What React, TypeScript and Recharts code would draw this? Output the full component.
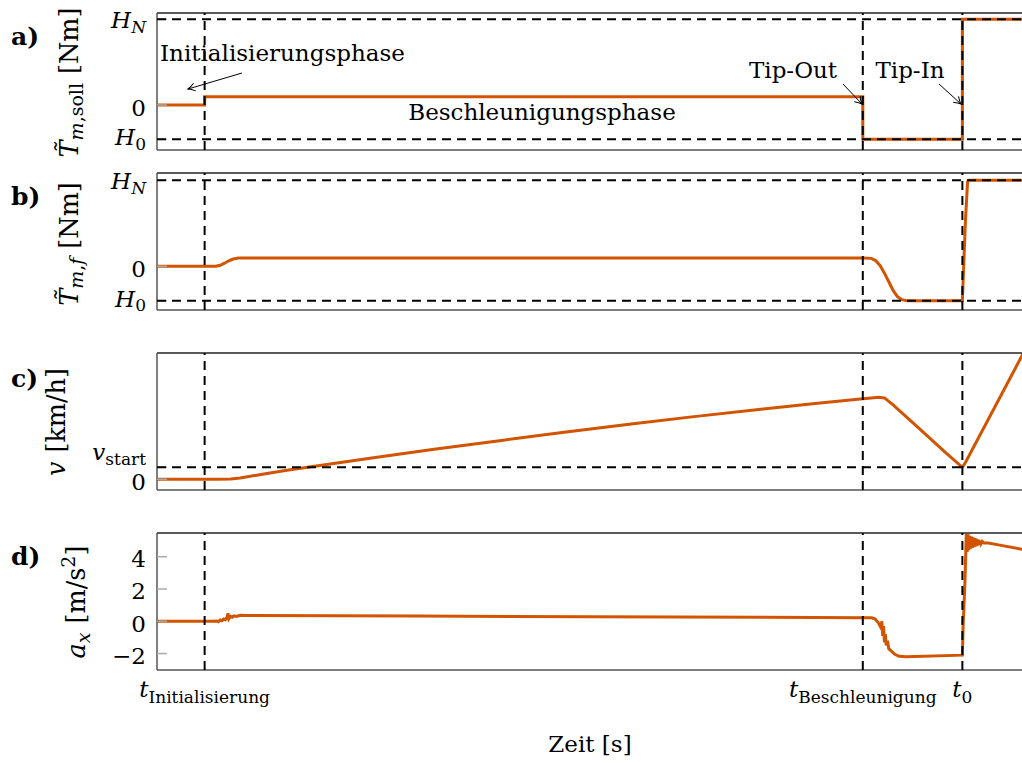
import React from 'react';
import { LineChart, Line, XAxis, YAxis, ReferenceLine } from 'recharts';

const FONT = '"DejaVu Serif", "Liberation Serif", serif';
const ORANGE = '#D25400';
const CHART_W = 1030;
const Y_AXIS_W = 157;

// event instants on the (dimensionless) time axis 0..100
const tInit = 5.5;
const tBeschl = 81.5;
const t0 = 93;
const timeTicks = [tInit, tBeschl, t0];
const timeTickSubs = ['Initialisierung', 'Beschleunigung', '0'];

// torque levels
const hN = 2.5;
const h0 = -1;
const vStart = 5;

// a) requested torque
const sollTime = [0, 5.5, 5.5, 81.5, 81.5, 93, 93, 100];
const sollTorque = [0, 0, 0.24, 0.24, -1, -1, 2.5, 2.5];

// b) filtered torque
const filtTime = [0, 6.8, 7.3, 7.8, 8.3, 8.8, 9.4, 81.5, 82.5, 83.0, 83.5, 84.0, 84.5, 85.0, 85.5, 86.0, 86.6, 93.0, 93.15, 93.35, 93.6, 93.7, 100];
const filtTorque = [0, 0, 0.03, 0.09, 0.16, 0.21, 0.24, 0.24, 0.23, 0.16, 0.02, -0.2, -0.45, -0.7, -0.88, -0.97, -1, -1, 0, 1.3, 2.45, 2.5, 2.5];

// c) vehicle speed
const speedTime = [0, 7, 8.5, 9.6, 12, 15, 20, 25, 32, 40, 47, 55, 62, 70, 76, 81.5, 82.5, 83.3, 84.0, 85, 88, 91, 93, 93.4, 100];
const speed = [0, 0, 0.15, 0.5, 2.0, 3.8, 6.4, 9.0, 12.5, 16.3, 19.6, 23.1, 26.1, 29.3, 31.6, 33.5, 33.9, 34.2, 33.9, 31.0, 21.2, 11.3, 5.0, 7.3, 52.3];

// d) longitudinal acceleration
const accelTime = [
  0, 6.5, 6.9, 7.1, 7.3, 7.5, 7.7, 7.9, 8.1, 8.2, 8.3, 8.5, 8.7, 8.9, 9.2, 9.6, 10.5, 30, 50, 70,
  81.5, 82.5, 82.9, 83.3, 83.6, 83.7, 83.8, 83.9, 84.0, 84.1, 84.2, 84.35, 84.5, 84.8, 85.2, 85.7, 86.5,
  93.0, 93.1, 93.15, 93.3, 93.45, 93.55, 93.65, 93.75, 93.85, 93.95, 94.05, 94.15, 94.25, 94.35, 94.45,
  94.55, 94.65, 94.75, 94.85, 94.95, 95.05, 95.15, 95.3, 95.5, 96, 97, 100,
];
const accel = [
  0, 0, 0.02, -0.03, 0.08, 0.03, 0.14, 0.1, 0.25, 0.5, 0.15, 0.3, 0.25, 0.34, 0.3, 0.37, 0.36, 0.32, 0.28, 0.25,
  0.22, 0.22, 0.15, -0.1, -0.4, 0.0, -0.9, -0.3, -1.3, -0.8, -1.5, -1.2, -1.7, -1.85, -2.05, -2.17, -2.2,
  -2.1, 0.0, 0.5, 2.5, 5.4, 4.3, 5.4, 4.4, 5.3, 4.5, 5.25, 4.55, 5.2, 4.6, 5.15,
  4.65, 5.1, 4.7, 5.05, 4.75, 5.0, 4.8, 4.95, 4.85, 4.85, 4.75, 4.45,
];

// y ticks: [main, subscript]
type TickText = [string, string];
const torqueTicks = [h0, 0, hN];
const torqueTickText: TickText[] = [['H', '0'], ['0', ''], ['H', 'N']];
const speedTicks = [0, vStart];
const speedTickText: TickText[] = [['0', ''], ['v', 'start']];
const accelTicks = [-2, 0, 2, 4];
const accelTickText: TickText[] = [['−2', ''], ['0', ''], ['2', ''], ['4', '']];

const zip = (ts: number[], vs: number[]) => ts.map((t, i) => ({ t, v: vs[i] }));

// baseline offsets of the tick labels relative to the tick position
const tickDy: Record<string, number> = { H_N: 9, H_0: 6, v_start: -7 };
const isLetter = (s: string) => /^[A-Za-z]$/.test(s);

function YTick(props: any) {
  const { x, y, payload, ticks, text } = props;
  const i = ticks.indexOf(payload.value);
  if (i < 0) return null;
  const [main, sub] = text[i] as TickText;
  const dy = sub ? tickDy[`${main}_${sub}`] ?? 10.5 : 10.5;
  return (
    <text x={x} y={y + dy} textAnchor="end" fontFamily={FONT} fontSize={23} fill="#000">
      <tspan fontStyle={isLetter(main) ? 'italic' : 'normal'}>{main}</tspan>
      {sub && (
        <tspan fontSize={17} dy={4.5} fontStyle={isLetter(sub) ? 'italic' : 'normal'}>
          {sub}
        </tspan>
      )}
    </text>
  );
}

function TimeTick(props: any) {
  const { x, y, payload } = props;
  const i = timeTicks.indexOf(payload.value);
  return (
    <text x={x} y={y} textAnchor="middle" fontFamily={FONT} fontSize={23} fill="#000">
      <tspan fontStyle="italic">t</tspan>
      <tspan fontSize={17} dy={6}>{timeTickSubs[i]}</tspan>
    </text>
  );
}

type PanelProps = {
  top: number;
  xAxisHeight: number;
  data: { t: number; v: number }[];
  domain: [number, number];
  ticks: number[];
  text: TickText[];
  hLines: number[];
  rightTicks: number[];
  timeLabels?: boolean;
};

function Panel({ top, xAxisHeight, data, domain, ticks, text, hLines, rightTicks, timeLabels }: PanelProps) {
  const height = 10 + 137 + xAxisHeight;
  return (
    <div style={{ position: 'absolute', left: 0, top }}>
      <LineChart width={CHART_W} height={height} data={data} margin={{ top: 10, right: 7, bottom: 0, left: 0 }}>
        <XAxis
          dataKey="t"
          type="number"
          domain={[0, 100]}
          ticks={timeTicks}
          interval={0}
          allowDataOverflow
          height={xAxisHeight}
          axisLine={{ stroke: '#555', strokeWidth: 1.5 }}
          tickLine={timeLabels ? false : { stroke: '#555' }}
          tickSize={timeLabels ? 0 : 4}
          tickMargin={timeLabels ? 27 : 0}
          tick={timeLabels ? <TimeTick /> : false}
        />
        <YAxis
          yAxisId="left"
          type="number"
          domain={domain}
          ticks={ticks}
          interval={0}
          allowDataOverflow
          width={Y_AXIS_W}
          tickSize={-10}
          tickMargin={21}
          axisLine={{ stroke: '#555', strokeWidth: 1.5 }}
          tickLine={{ stroke: '#aaa', strokeWidth: 1.5 }}
          tick={<YTick ticks={ticks} text={text} />}
        />
        <YAxis
          yAxisId="right"
          orientation="right"
          type="number"
          domain={domain}
          ticks={rightTicks}
          interval={0}
          allowDataOverflow
          width={0}
          tickSize={-8}
          axisLine={{ stroke: '#222', strokeWidth: 1.5 }}
          tickLine={{ stroke: '#aaa', strokeWidth: 1.5 }}
          tick={false}
        />
        <Line
          yAxisId="left"
          type="linear"
          dataKey="v"
          stroke={ORANGE}
          strokeWidth={3}
          dot={false}
          activeDot={false}
          isAnimationActive={false}
        />
        <ReferenceLine yAxisId="left" y={domain[1]} stroke="#222" strokeWidth={1.5} />
        {hLines.map((h) => (
          <ReferenceLine key={`h${h}`} yAxisId="left" y={h} stroke="#000" strokeWidth={2} strokeDasharray="9 6" zIndex={1000} />
        ))}
        {timeTicks.map((t) => (
          <ReferenceLine key={`v${t}`} yAxisId="left" x={t} stroke="#000" strokeWidth={2} strokeDasharray="9 6" zIndex={1000} />
        ))}
      </LineChart>
    </div>
  );
}

function Annotations() {
  const bold = { fontFamily: FONT, fontSize: 25, fontWeight: 'bold' as const };
  return (
    <svg
      width={1022}
      height={763}
      style={{ position: 'absolute', left: 0, top: 0, pointerEvents: 'none' }}
      fontFamily={FONT}
      fontSize={23}
    >
      <defs>
        <marker id="arrowHead" markerWidth="12" markerHeight="12" refX="9" refY="6" orient="auto" markerUnits="userSpaceOnUse">
          <path d="M2,2 Q6,5 9,6 Q6,7 2,10" fill="none" stroke="#000" strokeWidth={1} />
        </marker>
      </defs>

      {/* panel letters */}
      <text x={11} y={45} {...bold}>a)</text>
      <text x={11} y={205} {...bold}>b)</text>
      <text x={11} y={387} {...bold}>c)</text>
      <text x={11} y={565} {...bold}>d)</text>

      {/* axis titles */}
      <g fontSize={25.5}>
        <text transform="translate(78,82.5) rotate(-90)" textAnchor="middle">
          <tspan fontStyle="italic">{'T\u0303'}</tspan>
          <tspan fontSize={19} dy={5}>
            <tspan fontStyle="italic">m</tspan>,soll
          </tspan>
          <tspan dy={-5} dx={9}>[Nm]</tspan>
        </text>
        <text transform="translate(78,244) rotate(-90)" textAnchor="middle">
          <tspan fontStyle="italic">{'T\u0303'}</tspan>
          <tspan fontSize={19} dy={5}>
            <tspan fontStyle="italic">m</tspan>,<tspan fontStyle="italic">f</tspan>
          </tspan>
          <tspan dy={-5} dx={9}>[Nm]</tspan>
        </text>
        <text transform="translate(65,422) rotate(-90)" textAnchor="middle">
          <tspan fontStyle="italic">v</tspan>
          <tspan dx={9}>[km/h]</tspan>
        </text>
        <text transform="translate(85,602) rotate(-90)" textAnchor="middle">
          <tspan fontStyle="italic">a</tspan>
          <tspan fontSize={19} dy={5} fontStyle="italic">x</tspan>
          <tspan dy={-5} dx={9}>[m/s</tspan>
          <tspan fontSize={19} dy={-10}>2</tspan>
          <tspan dy={10}>]</tspan>
        </text>
      </g>
      <text x={590} y={752} textAnchor="middle">Zeit [s]</text>

      {/* phase annotations */}
      <text x={160} y={61}>Initialisierungsphase</text>
      <line x1={242} y1={73} x2={188} y2={89} stroke="#000" strokeWidth={1} markerEnd="url(#arrowHead)" />
      <text x={542} y={120} textAnchor="middle">Beschleunigungsphase</text>
      <text x={793} y={78} textAnchor="middle">Tip-Out</text>
      <line x1={843} y1={84} x2={862} y2={104} stroke="#000" strokeWidth={1} markerEnd="url(#arrowHead)" />
      <text x={910} y={78} textAnchor="middle">Tip-In</text>
      <line x1={939} y1={84} x2={961} y2={104} stroke="#000" strokeWidth={1} markerEnd="url(#arrowHead)" />
    </svg>
  );
}

export default function App() {
  return (
    <div
      style={{
        position: 'absolute',
        left: 0,
        top: 0,
        width: 1022,
        height: 763,
        overflow: 'hidden',
        background: '#fff',
      }}
    >
      <Panel
        top={3}
        xAxisHeight={10}
        data={zip(sollTime, sollTorque)}
        domain={[-1.31, 2.68]}
        ticks={torqueTicks}
        text={torqueTickText}
        hLines={[hN, h0]}
        rightTicks={[0]}
      />
      <Panel
        top={163}
        xAxisHeight={10}
        data={zip(filtTime, filtTorque)}
        domain={[-1.27, 2.71]}
        ticks={torqueTicks}
        text={torqueTickText}
        hLines={[hN, h0]}
        rightTicks={[0]}
      />
      <Panel
        top={343}
        xAxisHeight={10}
        data={zip(speedTime, speed)}
        domain={[-4.46, 52.6]}
        ticks={speedTicks}
        text={speedTickText}
        hLines={[vStart]}
        rightTicks={[0]}
      />
      <Panel
        top={523}
        xAxisHeight={93}
        data={zip(accelTime, accel)}
        domain={[-3.02, 5.47]}
        ticks={accelTicks}
        text={accelTickText}
        hLines={[]}
        rightTicks={[-2, 0, 2, 4]}
        timeLabels
      />
      <Annotations />
    </div>
  );
}
